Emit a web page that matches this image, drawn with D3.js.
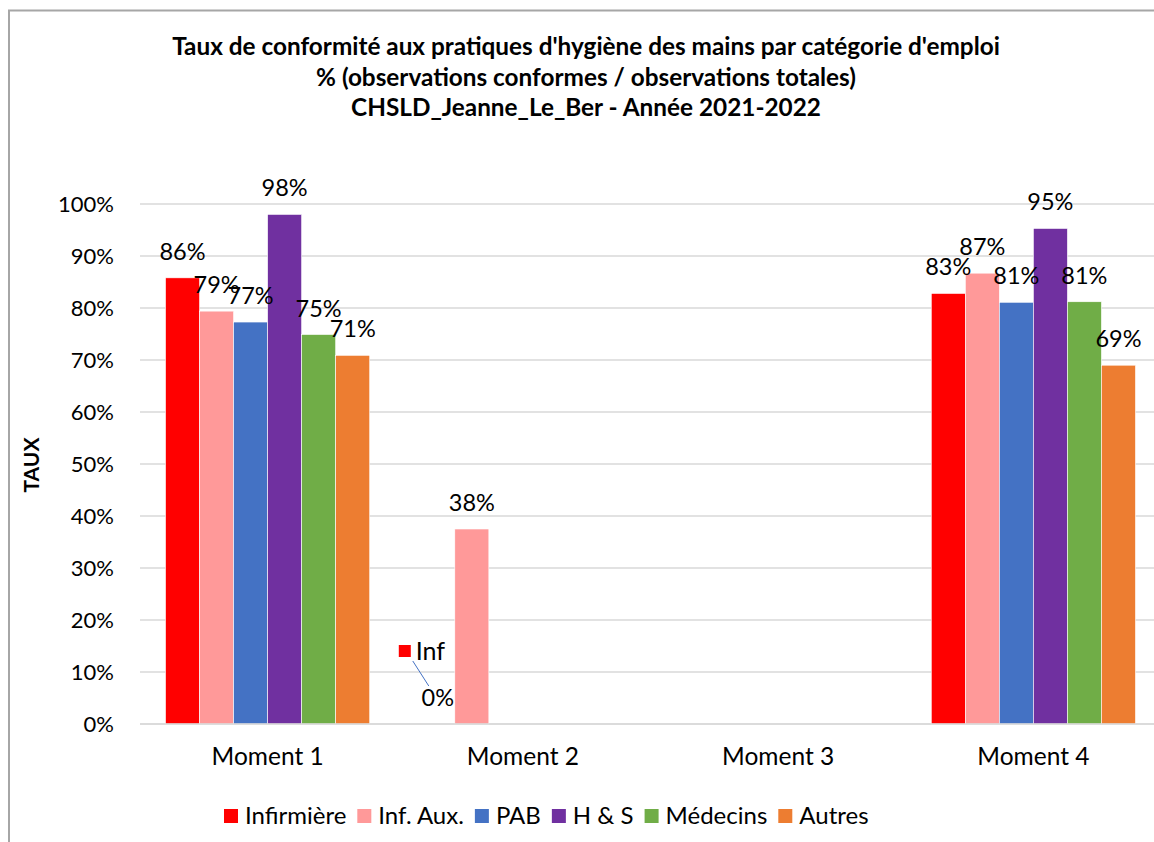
<!DOCTYPE html>
<html>
<head>
<meta charset="utf-8">
<script src="https://cdn.jsdelivr.net/npm/d3@7"></script>
<style>
  body { margin: 0; background: #fff; }
  text { font-family: Lato, "Noto Sans", sans-serif; fill: #000; }
</style>
</head>
<body>
<svg id="chart" width="1154" height="842"></svg>
<script>
// data
var categories = ["Moment 1", "Moment 2", "Moment 3", "Moment 4"];
var seriesNames = ["Infirmière", "Inf. Aux.", "PAB", "H & S", "Médecins", "Autres"];
var seriesColors = ["#FF0000", "#FF9999", "#4472C4", "#7030A0", "#70AD47", "#ED7D31"];
var infirmiere = [85.8, 0, null, 82.8];
var infAux = [79.4, 37.5, null, 86.7];
var pab = [77.3, null, null, 81.1];
var hs = [98.0, null, null, 95.3];
var medecins = [74.9, null, null, 81.2];
var autres = [70.9, null, null, 69.0];
var yTicks = [0, 10, 20, 30, 40, 50, 60, 70, 80, 90, 100];
var titleLines = [
  "Taux de conformité aux pratiques d'hygiène des mains par catégorie d'emploi",
  "% (observations conformes / observations totales)",
  "CHSLD_Jeanne_Le_Ber - Année 2021-2022"
];

var allSeries = [infirmiere, infAux, pab, hs, medecins, autres];

var svg = d3.select("#chart");

// chart border (continues past the right/bottom edge like the reference)
svg.append("rect")
  .attr("x", 9).attr("y", 10.5)
  .attr("width", 1200).attr("height", 900)
  .attr("fill", "none").attr("stroke", "#a6a6a6").attr("stroke-width", 2);

var plotL = 140, plotR = 1161, plotT = 204, plotB = 724;

var x = d3.scaleBand().domain(categories).range([plotL, plotR]);
var band = x.bandwidth();
var xs = d3.scaleBand().domain(seriesNames).range([band * 0.1, band * 0.9]);
var y = d3.scaleLinear().domain([0, 100]).range([plotB, plotT]);

// title
var title = svg.append("g");
title.selectAll("text").data(titleLines).enter().append("text")
  .attr("x", 586)
  .attr("y", function(d, i) { return 55 + i * 30.5; })
  .attr("text-anchor", "middle")
  .style("font-weight", "bold")
  .style("font-size", "20px")
  .text(function(d) { return d; });
var w0 = title.select("text").node().getComputedTextLength();
title.selectAll("text").style("font-size", (20 * 828 / w0) + "px");

// gridlines
svg.append("g").selectAll("line").data(yTicks).enter().append("line")
  .attr("x1", plotL).attr("x2", plotR)
  .attr("y1", function(d) { return y(d); })
  .attr("y2", function(d) { return y(d); })
  .attr("stroke", "#d9d9d9")
  .attr("stroke-width", 1.5);

// y axis labels
var yAxis = d3.axisLeft(y).tickValues(yTicks).tickSize(0).tickPadding(0)
  .tickFormat(function(d) { return d + "%"; });
var yg = svg.append("g").attr("transform", "translate(114,0)").call(yAxis);
yg.select(".domain").remove();
yg.selectAll("text").style("font-size", "22px").attr("fill", "#000")
  .style("font-family", "Lato, 'Noto Sans', sans-serif");

// x axis labels
var xAxis = d3.axisBottom(x).tickSize(0).tickPadding(0);
var xg = svg.append("g").attr("transform", "translate(0," + (plotB + 24) + ")").call(xAxis);
xg.select(".domain").remove();
xg.selectAll("text").style("font-size", "24.5px").attr("fill", "#000")
  .style("font-family", "Lato, 'Noto Sans', sans-serif");

// y axis title
svg.append("text")
  .attr("transform", "translate(39,465) rotate(-90)")
  .attr("text-anchor", "middle")
  .style("font-weight", "bold")
  .style("font-size", "21px")
  .text("TAUX");

// bars
var bars = [];
allSeries.forEach(function(vals, s) {
  vals.forEach(function(v, c) {
    if (v !== null) bars.push({ s: s, c: c, v: v });
  });
});

var barG = svg.append("g");
barG.selectAll("rect").data(bars).enter().append("rect")
  .attr("x", function(d) { return x(categories[d.c]) + xs(seriesNames[d.s]); })
  .attr("y", function(d) { return y(d.v); })
  .attr("width", xs.bandwidth())
  .attr("height", function(d) { return plotB - y(d.v); })
  .attr("fill", function(d) { return seriesColors[d.s]; })
  .attr("stroke", "#fff")
  .attr("stroke-width", 0.6);

// redraw zero line above bars
svg.append("line")
  .attr("x1", plotL).attr("x2", plotR)
  .attr("y1", y(0)).attr("y2", y(0))
  .attr("stroke", "#d9d9d9").attr("stroke-width", 1.5);

// data labels
function cx(d) { return x(categories[d.c]) + xs(seriesNames[d.s]) + xs.bandwidth() / 2; }
svg.append("g").selectAll("text").data(bars).enter().append("text")
  .attr("x", cx)
  .attr("y", function(d) { return y(d.v) - 18; })
  .attr("text-anchor", "middle")
  .style("font-size", "23.5px")
  .text(function(d) { return Math.round(d.v) + "%"; });

// callout for the 0% Infirmière bar in Moment 2
var zero = bars.filter(function(d) { return d.c === 1 && d.s === 0; })[0];
var zx = cx(zero), zy = y(zero.v);
var call = svg.append("g");
call.append("line")
  .attr("x1", zx - 25).attr("y1", zy - 63)
  .attr("x2", zx - 9).attr("y2", zy - 38)
  .attr("stroke", "#4472C4").attr("stroke-width", 1);
call.append("rect")
  .attr("x", zx - 39).attr("y", zy - 79)
  .attr("width", 12).attr("height", 12)
  .attr("fill", seriesColors[0]);
call.append("text")
  .attr("x", zx - 22).attr("y", zy - 64)
  .style("font-size", "25px")
  .text("Inf");

// legend
var lg = svg.append("g");
var items = lg.selectAll("g").data(seriesNames).enter().append("g");
items.append("rect")
  .attr("width", 14).attr("height", 14)
  .attr("y", 809)
  .attr("fill", function(d, i) { return seriesColors[i]; });
items.append("text")
  .attr("x", 21).attr("y", 824)
  .style("font-size", "24px")
  .text(function(d) { return d; });
var lx = 224;
items.each(function() {
  var g = d3.select(this);
  g.attr("transform", "translate(" + lx + ",0)");
  lx += 21 + g.select("text").node().getComputedTextLength() + 11;
});
</script>
</body>
</html>
